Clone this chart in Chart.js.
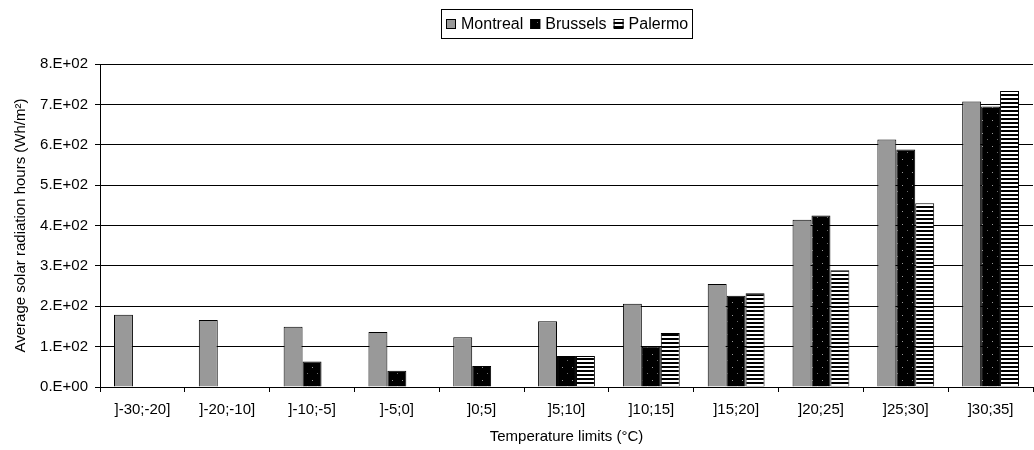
<!DOCTYPE html>
<html>
<head>
<meta charset="utf-8">
<script src="https://cdn.jsdelivr.net/npm/chart.js@4/dist/chart.umd.min.js"></script>
<style>
  html, body { margin: 0; padding: 0; background: #fff; }
  #chart { display: block; }
</style>
</head>
<body>
<canvas id="chart" width="1034" height="450"></canvas>
<script>
// Temperature classes (°C)
const categories = [']-30;-20]', ']-20;-10]', ']-10;-5]', ']-5;0]', ']0;5]', ']5;10]',
                    ']10;15]', ']15;20]', ']20;25]', ']25;30]', ']30;35]'];

// Average solar radiation hours (Wh/m²) per temperature class
const montreal = [179, 166, 149, 136, 123, 163, 206, 255, 414, 613, 707];
const brussels = [null, null, 63, 40, 52, 77, 100, 226, 425, 588, 695];
const palermo  = [null, null, null, null, null, 77, 134, 232, 289, 455, 733];

const seriesNames = ['Montreal', 'Brussels', 'Palermo'];

// Value axis range and step
const yMin = 0;
const yMax = 800;
const yStep = 100;

const FONT = '"Liberation Sans", Arial, sans-serif';

// Scientific notation in the "8.E+02" style
function sciLabel(v) {
  if (v === 0) return '0.E+00';
  const e = Math.floor(Math.log10(Math.abs(v)) + 1e-9);
  const m = Math.round(v / Math.pow(10, e));
  return m + '.E+' + String(e).padStart(2, '0');
}

// Fill patterns
function dottedPattern() {
  const c = document.createElement('canvas');
  c.width = 10; c.height = 13;
  const g = c.getContext('2d');
  g.fillStyle = '#000';
  g.fillRect(0, 0, 10, 13);
  g.fillStyle = '#9a9a9a';
  g.fillRect(2, 3, 1, 1);
  g.fillStyle = '#6a6a6a';
  g.fillRect(7, 9, 1, 1);
  return g.createPattern(c, 'repeat');
}
function stripedPattern() {
  const c = document.createElement('canvas');
  c.width = 4; c.height = 4;
  const g = c.getContext('2d');
  g.fillStyle = '#fff';
  g.fillRect(0, 0, 4, 4);
  g.fillStyle = '#000';
  g.fillRect(0, 2, 4, 2);
  return g.createPattern(c, 'repeat');
}

const fills = ['#999999', dottedPattern(), stripedPattern()];
const values = [montreal, brussels, palermo];

// Boxed legend centred above the plot area
const boxLegend = {
  id: 'boxLegend',
  afterDraw(chart) {
    const ctx = chart.ctx;
    const area = chart.chartArea;
    ctx.save();
    ctx.font = '16px ' + FONT;
    ctx.textBaseline = 'middle';
    const sw = 10, gapText = 5, gapItem = 7, padX = 4, boxH = 29;
    const items = chart.data.datasets.map(ds => ({
      label: ds.label, fill: ds.backgroundColor, w: ctx.measureText(ds.label).width
    }));
    const inner = items.reduce((s, it) => s + sw + gapText + it.w, 0) + gapItem * (items.length - 1);
    const boxW = Math.round(inner + padX * 2 + 1);
    const cx = (area.left + area.right) / 2;
    const x0 = Math.round(cx - boxW / 2) + 0.5;
    const y0 = 9.5;
    ctx.fillStyle = '#fff';
    ctx.fillRect(x0, y0, boxW, boxH);
    ctx.strokeStyle = '#000';
    ctx.lineWidth = 1;
    ctx.strokeRect(x0, y0, boxW, boxH);
    let x = Math.round(x0 + padX);
    const cy = y0 + boxH / 2;
    const sy = Math.round(cy - sw / 2);
    items.forEach(it => {
      ctx.fillStyle = it.fill;
      ctx.fillRect(x, sy, sw, sw);
      ctx.strokeStyle = '#000';
      ctx.strokeRect(x + 0.5, sy + 0.5, sw - 1, sw - 1);
      x += sw + gapText;
      ctx.fillStyle = '#000';
      ctx.fillText(it.label, x, cy + 1);
      x += it.w + gapItem;
    });
    ctx.restore();
  }
};

new Chart(document.getElementById('chart'), {
  type: 'bar',
  data: {
    labels: categories,
    datasets: seriesNames.map((name, i) => ({
      label: name,
      data: values[i],
      backgroundColor: fills[i],
      borderColor: '#000',
      borderWidth: 1,
      categoryPercentage: 0.67,
      barPercentage: 1.0
    }))
  },
  options: {
    responsive: false,
    animation: false,
    devicePixelRatio: 1,
    layout: { padding: { top: 64, right: 1, left: 0, bottom: 0 } },
    plugins: {
      legend: { display: false },
      tooltip: { enabled: false }
    },
    scales: {
      x: {
        offset: true,
        grid: {
          offset: true,
          drawOnChartArea: false,
          drawTicks: true,
          tickLength: 5,
          color: '#000'
        },
        border: { color: '#000', width: 1 },
        ticks: {
          color: '#000',
          font: { family: FONT, size: 15 },
          padding: 9,
          maxRotation: 0,
          autoSkip: false
        },
        title: {
          display: true,
          text: 'Temperature limits (°C)',
          color: '#000',
          font: { family: FONT, size: 15 },
          padding: { top: 0, bottom: 4 }
        },
        afterFit(scale) { scale.height = 63; }
      },
      y: {
        min: yMin,
        max: yMax,
        grid: {
          color: '#000',
          drawTicks: true,
          tickLength: 5
        },
        border: { color: '#000', width: 1 },
        ticks: {
          stepSize: yStep,
          color: '#000',
          font: { family: FONT, size: 15 },
          padding: 7,
          callback: v => sciLabel(v)
        },
        title: {
          display: true,
          text: 'Average solar radiation hours (Wh/m²)',
          color: '#000',
          font: { family: FONT, size: 15 },
          padding: { top: 12, bottom: 0 }
        },
        afterFit(scale) { scale.width = 100; }
      }
    }
  },
  plugins: [boxLegend]
});
</script>
</body>
</html>
